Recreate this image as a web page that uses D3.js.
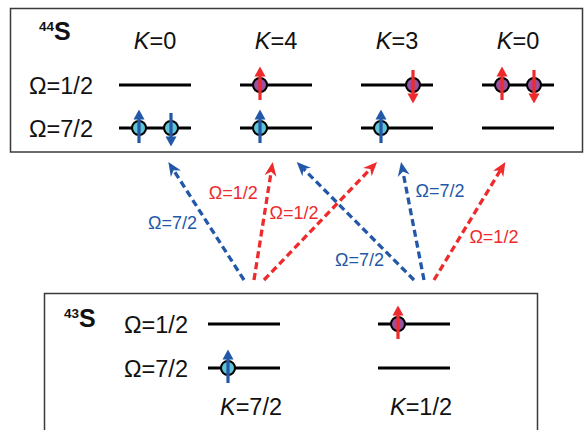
<!DOCTYPE html>
<html>
<head>
<meta charset="utf-8">
<script src="https://cdn.jsdelivr.net/npm/d3@7"></script>
<style>
  body { margin: 0; background: #fff; }
  svg { display: block; font-family: "Liberation Sans", Arial, sans-serif; }
</style>
</head>
<body>
<svg id="chart" width="584" height="430"></svg>
<script>
// Levels (Omega) shared by both nuclei
const levels = ["1/2", "7/2"];

// 44S configurations, one per K value
const topK = ["0", "4", "3", "0"];
const topNucleons = [
  { col: 0, level: "7/2", side: -1, spin: "up" },
  { col: 0, level: "7/2", side: 1, spin: "down" },
  { col: 1, level: "1/2", side: -1, spin: "up" },
  { col: 1, level: "7/2", side: -1, spin: "up" },
  { col: 2, level: "1/2", side: 1, spin: "down" },
  { col: 2, level: "7/2", side: -1, spin: "up" },
  { col: 3, level: "1/2", side: -1, spin: "up" },
  { col: 3, level: "1/2", side: 1, spin: "down" }
];

// 43S configurations
const bottomK = ["7/2", "1/2"];
const bottomNucleons = [
  { col: 0, level: "7/2", side: -1, spin: "up" },
  { col: 1, level: "1/2", side: -1, spin: "up" }
];

// added neutron: 43S column -> 44S column, with orbit
const transitions = [
  { from: 0, to: 0, omega: "7/2" },
  { from: 0, to: 1, omega: "1/2" },
  { from: 0, to: 2, omega: "1/2" },
  { from: 1, to: 1, omega: "7/2" },
  { from: 1, to: 2, omega: "7/2" },
  { from: 1, to: 3, omega: "1/2" }
];
// where each transition label sits along its arrow (fraction from start) and on which side
const labelPlace = [
  { t: 0.49, side: "left" },
  { t: 0.74, side: "left" },
  { t: 0.57, side: "left" },
  { t: 0.17, side: "left" },
  { t: 0.76, side: "right" },
  { t: 0.37, side: "right" }
];

const BLUE = "#2357a7", RED = "#ee2a2c";
const CYAN = "#5ec5d6", PURPLE = "#9a4f9f";
const levelColor = d3.scaleOrdinal().domain(levels).range([RED, BLUE]);
const levelFill = d3.scaleOrdinal().domain(levels).range([PURPLE, CYAN]);

const svg = d3.select("#chart");

// scales
const xTop = d3.scalePoint().domain(d3.range(topK.length)).range([155, 518]);
const yTop = d3.scalePoint().domain(levels).range([85, 128]);
const xBot = d3.scalePoint().domain(d3.range(bottomK.length)).range([244, 414]);
const yBot = d3.scalePoint().domain(levels).range([324, 368]);

const HALF = 36, SIDE = 16, R = 7;
const BIG = 23.5;

// boxes
svg.append("rect").attr("x", 10.5).attr("y", 8.5).attr("width", 572).attr("height", 143.5)
  .attr("fill", "none").attr("stroke", "#3a3a3a").attr("stroke-width", 1.5);
svg.append("rect").attr("x", 44.5).attr("y", 293.5).attr("width", 493).attr("height", 150)
  .attr("fill", "none").attr("stroke", "#3a3a3a").attr("stroke-width", 1.5);

function nuclide(g, x, y, mass) {
  const t = g.append("text").attr("x", x).attr("y", y).attr("font-weight", "bold").attr("fill", "#111");
  t.append("tspan").attr("font-size", 13.5).attr("dy", -9).text(mass);
  t.append("tspan").attr("font-size", 25).attr("dy", 9).text("S");
}

function kLabel(g, x, y, k) {
  const t = g.append("text").attr("x", x).attr("y", y).attr("text-anchor", "middle")
    .attr("font-size", BIG).attr("fill", "#111");
  t.append("tspan").attr("font-style", "italic").text("K");
  t.append("tspan").text("=" + k);
}

function spinArrow(g, x, y, spin, color) {
  const dir = spin === "up" ? -1 : 1;
  const tail = y - dir * 15, tip = y + dir * 18.5, head = 10;
  g.append("line").attr("x1", x).attr("x2", x).attr("y1", tail).attr("y2", tip - dir * head * 0.8)
    .attr("stroke", color).attr("stroke-width", 3.2);
  g.append("path").attr("d", `M${x},${tip} L${x - 5.5},${tip - dir * head} L${x + 5.5},${tip - dir * head} Z`)
    .attr("fill", color);
}

function drawScheme(g, xs, ys, kVals, nucleons) {
  kVals.forEach((k, i) => {
    levels.forEach(l => {
      g.append("line").attr("x1", xs(i) - HALF).attr("x2", xs(i) + HALF)
        .attr("y1", ys(l)).attr("y2", ys(l)).attr("stroke", "#000").attr("stroke-width", 3);
    });
  });
  nucleons.forEach(n => {
    const cx = xs(n.col) + n.side * SIDE, cy = ys(n.level);
    g.append("circle").attr("cx", cx).attr("cy", cy).attr("r", R)
      .attr("fill", levelFill(n.level)).attr("stroke", "#000").attr("stroke-width", 2);
    spinArrow(g, cx, cy, n.spin, levelColor(n.level));
  });
}

function levelLabels(g, x, ys) {
  levels.forEach(l => {
    g.append("text").attr("x", x).attr("y", ys(l) + 8.5).attr("font-size", BIG).attr("fill", "#111")
      .text("\u03A9=" + l);
  });
}

// 44S
const gTop = svg.append("g");
nuclide(gTop, 39, 40, "44");
topK.forEach((k, i) => kLabel(gTop, xTop(i), 49, k));
levelLabels(gTop, 29, yTop);
drawScheme(gTop, xTop, yTop, topK, topNucleons);

// 43S
const gBot = svg.append("g");
nuclide(gBot, 64, 327, "43");
bottomK.forEach((k, i) => kLabel(gBot, xBot(i) + 7, 415, k));
levelLabels(gBot, 124, yBot);
drawScheme(gBot, xBot, yBot, bottomK, bottomNucleons);

// transitions
const gArrows = svg.append("g");
const START_Y = 280, END_Y = 162;
const bySource = d3.group(transitions, d => d.from);
transitions.forEach((tr, i) => {
  const sibs = bySource.get(tr.from);
  const order = sibs.indexOf(tr) - (sibs.length - 1) / 2;
  const x0 = xBot(tr.from) + 10 + order * 10, y0 = START_Y;
  const x1 = xTop(tr.to) + 0.15 * (x0 - xTop(tr.to)), y1 = END_Y;
  const color = levelColor(tr.omega);
  const len = Math.hypot(x1 - x0, y1 - y0);
  const ux = (x1 - x0) / len, uy = (y1 - y0) / len;
  const head = 14, hw = 6;
  const bx = x1 - ux * head, by = y1 - uy * head;
  gArrows.append("line").attr("x1", x0).attr("y1", y0)
    .attr("x2", x1 - ux * head * 0.7).attr("y2", y1 - uy * head * 0.7)
    .attr("stroke", color).attr("stroke-width", 3.3).attr("stroke-dasharray", "7,4");
  gArrows.append("path")
    .attr("d", `M${x1},${y1} L${bx - uy * hw},${by + ux * hw} L${x1 - ux * head * 0.7},${y1 - uy * head * 0.7} L${bx + uy * hw},${by - ux * hw} Z`)
    .attr("fill", color);

  const p = labelPlace[i];
  const lx = x0 + (x1 - x0) * p.t, ly = y0 + (y1 - y0) * p.t;
  gArrows.append("text")
    .attr("x", p.side === "left" ? lx - 10 : lx + 9)
    .attr("y", ly + 6.5)
    .attr("text-anchor", p.side === "left" ? "end" : "start")
    .attr("font-size", 18).attr("fill", color)
    .text("\u03A9=" + tr.omega);
});
</script>
</body>
</html>
